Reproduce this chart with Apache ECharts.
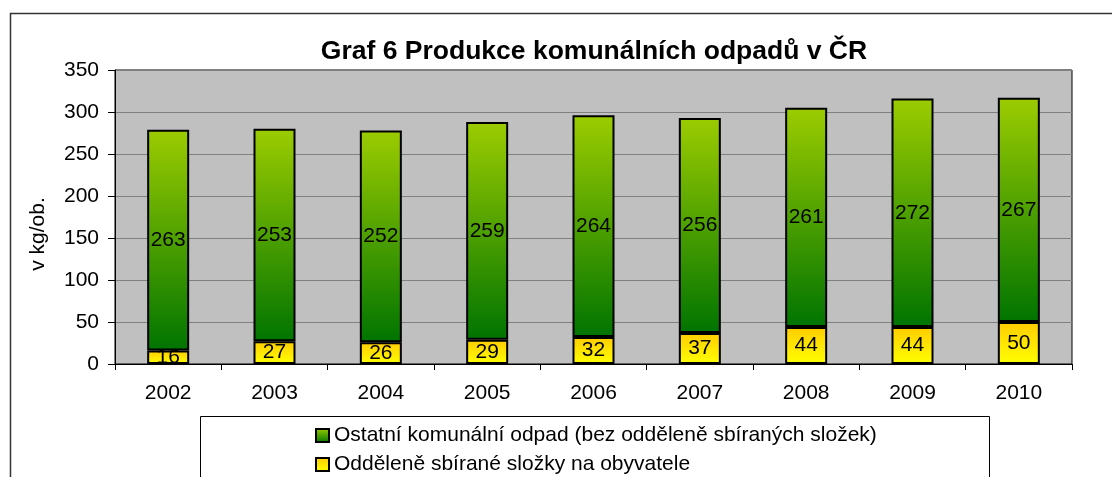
<!DOCTYPE html>
<html>
<head>
<meta charset="utf-8">
<script src="https://cdn.jsdelivr.net/npm/echarts@6/dist/echarts.min.js"></script>
<style>
  html, body { margin: 0; padding: 0; background: #fff; }
  #chart { width: 1112px; height: 477px; }
</style>
</head>
<body>
<div id="chart"></div>
<script>
var years = ['2002', '2003', '2004', '2005', '2006', '2007', '2008', '2009', '2010'];
var oddeleneSbirane = [16, 27, 26, 29, 32, 37, 44, 44, 50];
var ostatniOdpad = [263, 253, 252, 259, 264, 256, 261, 272, 267];
var yTicks = { min: 0, max: 350, interval: 50 };

var nameOstatni = 'Ostatní komunální odpad (bez odděleně sbíraných složek)';
var nameOddelene = 'Odděleně sbírané složky na obyvatele';
var font = 'Liberation Sans, Arial, sans-serif';

var myChart = echarts.init(document.getElementById('chart'));

// jedna legenda na řádek, aby se nezalamovala do sloupců
function legendRow(name, top) {
    return {
        orient: 'vertical',
        left: 310,
        top: top,
        itemWidth: 13,
        itemHeight: 13,
        icon: 'rect',
        data: [name],
        textStyle: { fontFamily: font, fontSize: 21, color: '#000' },
        z: 5
    };
}

var option = {
    backgroundColor: '#fff',
    animation: false,
    title: {
        text: 'Graf 6 Produkce komunálních odpadů v ČR',
        left: 589,
        textAlign: 'center',
        top: 33,
        textStyle: { fontFamily: font, fontSize: 26.5, fontWeight: 'bold', color: '#000' }
    },
    graphic: [
        // vnější rámeček grafu
        { type: 'rect', shape: { x: 10.5, y: 13.5, width: 1200, height: 600 },
          style: { fill: 'none', stroke: '#333', lineWidth: 1.5 }, z: -1 },
        // rámeček legendy
        { type: 'rect', shape: { x: 200.5, y: 416.5, width: 789, height: 100 },
          style: { fill: '#fff', stroke: '#000', lineWidth: 1 }, z: 0 }
    ],
    legend: [
        legendRow(nameOstatni, 420),
        legendRow(nameOddelene, 449)
    ],
    grid: {
        left: 115,
        right: 40,
        top: 70,
        bottom: 113,
        show: true,
        backgroundColor: '#c0c0c0',
        borderColor: '#000',
        borderWidth: 1
    },
    xAxis: {
        type: 'category',
        data: years,
        axisLine: { lineStyle: { color: '#000', width: 1 } },
        axisTick: { show: true, length: 6, lineStyle: { color: '#000' } },
        axisLabel: { fontFamily: font, fontSize: 21, color: '#000', margin: 19 }
    },
    yAxis: {
        type: 'value',
        min: yTicks.min,
        max: yTicks.max,
        interval: yTicks.interval,
        name: 'v kg/ob.',
        nameLocation: 'middle',
        nameGap: 66,
        nameTextStyle: { fontFamily: font, fontSize: 21, color: '#000', padding: [0, 0, 0, -34] },
        axisLine: { show: true, lineStyle: { color: '#000' } },
        axisTick: { show: true, length: 7, lineStyle: { color: '#000' } },
        axisLabel: { fontFamily: font, fontSize: 21, color: '#000', margin: 16 },
        splitLine: { lineStyle: { color: '#808080', width: 1 } }
    },
    series: [
        {
            name: nameOddelene,
            type: 'bar',
            stack: 'celkem',
            barWidth: 42,
            data: oddeleneSbirane,
            itemStyle: {
                color: new echarts.graphic.LinearGradient(0, 0, 0, 1, [
                    { offset: 0, color: '#ffcc00' },
                    { offset: 1, color: '#ffff00' }
                ]),
                borderColor: '#000',
                borderWidth: 2
            },
            label: { show: true, position: 'inside', fontFamily: font, fontSize: 21, color: '#000' }
        },
        {
            name: nameOstatni,
            type: 'bar',
            stack: 'celkem',
            barWidth: 42,
            data: ostatniOdpad,
            itemStyle: {
                color: new echarts.graphic.LinearGradient(0, 0, 0, 1, [
                    { offset: 0, color: '#9ccc00' },
                    { offset: 1, color: '#007400' }
                ]),
                borderColor: '#000',
                borderWidth: 2
            },
            label: { show: true, position: 'inside', fontFamily: font, fontSize: 21, color: '#000' }
        }
    ]
};

myChart.setOption(option);
</script>
</body>
</html>
